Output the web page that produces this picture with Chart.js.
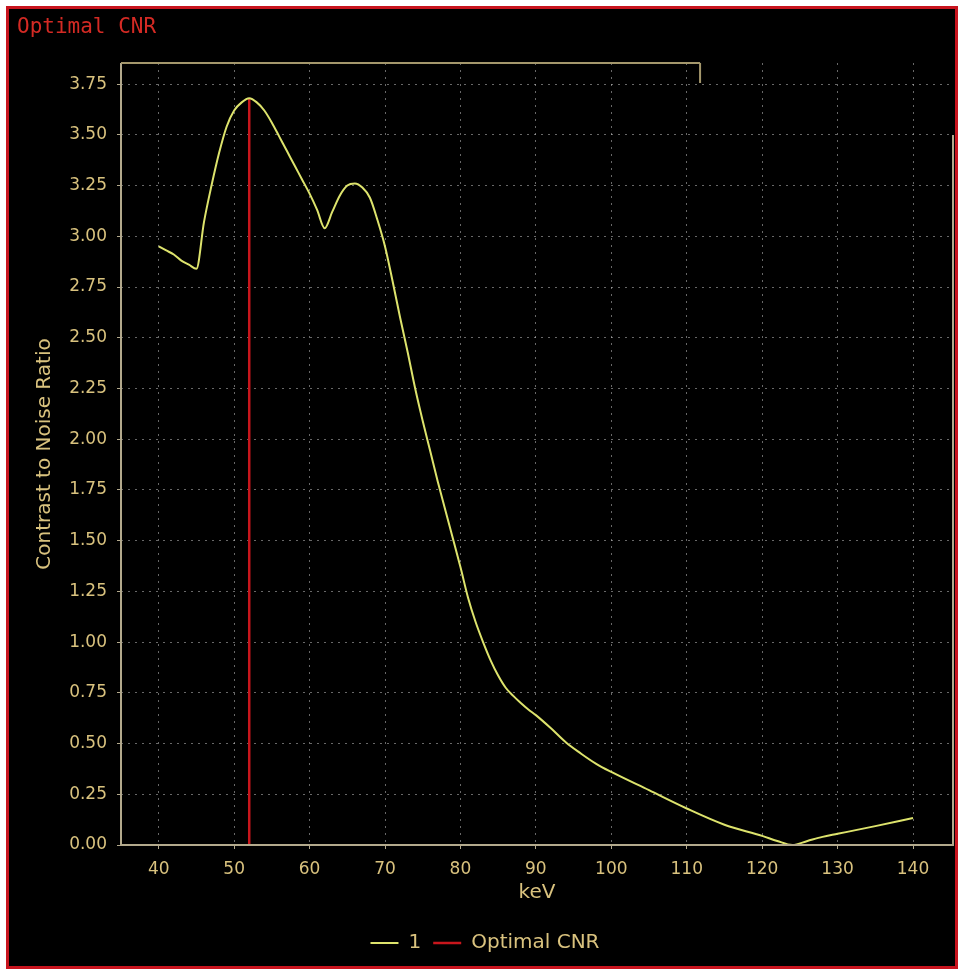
<!DOCTYPE html>
<html>

<head>
    <meta charset="UTF-8">
    <title>Optimal CNR</title>
    <script src="https://cdn.jsdelivr.net/npm/chart.js@4.4.0/dist/chart.umd.min.js"></script>
    <style>
        body { margin: 0; background: #fff; }
        #frame {
            position: absolute; left: 6px; top: 6px;
            width: 946px; height: 957px;
            border: 3px solid #c8141e; background: #000;
        }
        #frame canvas { display: block; }
    </style>
</head>

<body>
    <div id="frame">
        <canvas id="cnr-chart" width="946" height="957"></canvas>
    </div>
</body>

<script>
    // energy (keV) and contrast to noise ratio
    var keV = [40, 41, 42, 43, 44, 45, 46, 47, 48, 49,
        50, 51, 52, 53, 54, 55, 56, 57, 58, 59,
        60, 61, 62, 63, 64, 65, 66, 67, 68, 69,
        70, 71, 72, 73, 74, 75, 76, 77, 78, 79,
        80, 81, 82, 83, 84, 85, 86, 87, 88, 89,
        90, 92, 94, 96, 98, 100, 105, 110, 115, 120,
        122, 124, 126, 128, 130, 135, 140];
    var cnr = [2.95, 2.93, 2.91, 2.88, 2.86, 2.84, 3.07, 3.25, 3.41, 3.54,
        3.62, 3.66, 3.68, 3.66, 3.62, 3.56, 3.49, 3.42, 3.35, 3.28,
        3.21, 3.13, 3.04, 3.12, 3.20, 3.25, 3.26, 3.24, 3.19, 3.08,
        2.95, 2.78, 2.60, 2.43, 2.25, 2.09, 1.94, 1.79, 1.65, 1.51,
        1.37, 1.22, 1.10, 1.00, 0.91, 0.835, 0.775, 0.735, 0.70, 0.668,
        0.64, 0.575, 0.505, 0.45, 0.40, 0.36, 0.27, 0.18, 0.10, 0.045,
        0.02, 0.00, 0.02, 0.04, 0.055, 0.093, 0.133];

    // optimal CNR marker
    var optimalKeV = [52, 52];
    var optimalCnr = [0, 3.68];

    var xMin = 35, xMax = 145.3, xStep = 10;
    var yMin = 0, yMax = 3.854, yStep = 0.25;

    var tan = '#d9c27e';
    var axisColor = '#b3a98c';

    function toPoints(xs, ys) {
        return xs.map(function (x, i) { return { x: x, y: ys[i] }; });
    }

    var plotFrame = {
        id: 'plotFrame',
        afterDraw: function (chart) {
            var a = chart.chartArea;
            var ctx = chart.ctx;
            ctx.save();
            ctx.strokeStyle = axisColor;
            ctx.lineWidth = 2;
            ctx.beginPath();
            ctx.moveTo(a.left, a.top);
            ctx.lineTo(a.left, a.bottom);
            ctx.lineTo(a.right, a.bottom);
            ctx.lineTo(a.right, a.top + 72);
            ctx.stroke();
            // partial top border with its small end mark
            var topEnd = a.left + (a.right - a.left) * 0.696;
            ctx.strokeStyle = '#a4976c';
            ctx.beginPath();
            ctx.moveTo(a.left, a.top);
            ctx.lineTo(topEnd, a.top);
            ctx.moveTo(topEnd, a.top);
            ctx.lineTo(topEnd, a.top + 20);
            ctx.stroke();
            ctx.restore();
        }
    };

    var chart = new Chart(document.getElementById('cnr-chart'), {
        type: 'line',
        data: {
            datasets: [{
                label: '1',
                data: toPoints(keV, cnr),
                borderColor: '#dde36c',
                backgroundColor: '#dde36c',
                borderWidth: 2,
                pointRadius: 0,
                cubicInterpolationMode: 'monotone',
                fill: false
            }, {
                label: 'Optimal CNR',
                data: toPoints(optimalKeV, optimalCnr),
                borderColor: '#c8161c',
                backgroundColor: '#c8161c',
                borderWidth: 2.5,
                pointRadius: 0,
                fill: false
            }]
        },
        options: {
            responsive: false,
            animation: false,
            layout: { padding: { left: 8, right: 2, top: 0, bottom: 3 } },
            plugins: {
                title: {
                    display: true,
                    text: 'Optimal CNR',
                    align: 'start',
                    color: '#d42a24',
                    font: { family: 'DejaVu Sans Mono', size: 21, weight: 'normal', lineHeight: 1.2 },
                    padding: { top: 6, bottom: 22.8 }
                },
                legend: {
                    position: 'bottom',
                    labels: {
                        color: tan,
                        font: { family: 'DejaVu Sans', size: 20 },
                        usePointStyle: true,
                        pointStyle: 'line',
                        pointStyleWidth: 28,
                        padding: 12
                    }
                },
                tooltip: { enabled: false }
            },
            scales: {
                x: {
                    type: 'linear',
                    min: xMin,
                    max: xMax,
                    afterFit: function (scale) { scale.height = 76; },
                    ticks: {
                        stepSize: xStep,
                        includeBounds: false,
                        color: tan,
                        padding: 10,
                        maxRotation: 0,
                        font: { family: 'DejaVu Sans', size: 17 }
                    },
                    grid: {
                        color: 'rgba(190,190,190,0.55)',
                        lineWidth: 1,
                        tickLength: 4,
                        tickColor: axisColor
                    },
                    border: { display: false, dash: [2, 5] },
                    title: {
                        display: true,
                        text: 'keV',
                        color: tan,
                        font: { family: 'DejaVu Sans', size: 20, lineHeight: 1.2 },
                        padding: { top: 0, bottom: 16 }
                    }
                },
                y: {
                    type: 'linear',
                    min: yMin,
                    max: yMax,
                    afterFit: function (scale) { scale.width = 104; },
                    ticks: {
                        stepSize: yStep,
                        includeBounds: false,
                        color: tan,
                        padding: 10,
                        font: { family: 'DejaVu Sans', size: 17 },
                        callback: function (v) { return v.toFixed(2); }
                    },
                    grid: {
                        color: 'rgba(190,190,190,0.55)',
                        lineWidth: 1,
                        tickLength: 4,
                        tickColor: axisColor
                    },
                    border: { display: false, dash: [2, 5] },
                    title: {
                        display: true,
                        text: 'Contrast to Noise Ratio',
                        color: tan,
                        font: { family: 'DejaVu Sans', size: 20, lineHeight: 1.2 },
                        padding: { top: 16, bottom: 0 }
                    }
                }
            }
        },
        plugins: [plotFrame]
    });
</script>

</html>
